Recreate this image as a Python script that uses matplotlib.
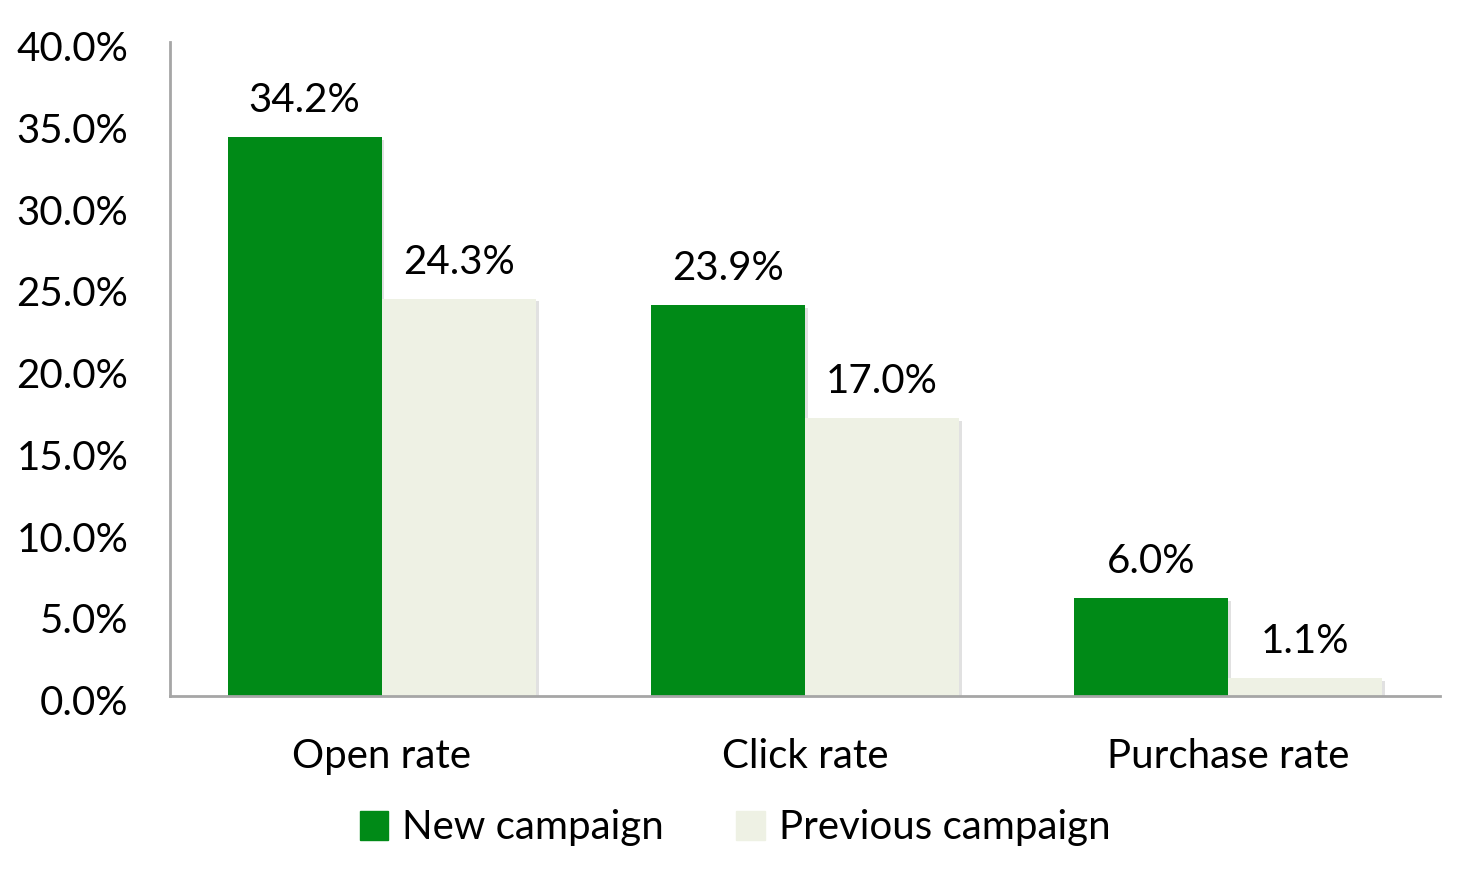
import matplotlib.pyplot as plt
import matplotlib.patheffects as pe
import matplotlib.transforms as mtrans
from matplotlib.patches import Patch
import numpy as np

plt.rcParams['font.family'] = ['Lato', 'DejaVu Sans']

categories = ['Open rate', 'Click rate', 'Purchase rate']
new_campaign = [34.2, 23.9, 6.0]
previous_campaign = [24.3, 17.0, 1.1]
yticks = [0, 5, 10, 15, 20, 25, 30, 35, 40]

green = '#008A17'
pale = '#EEF1E4'
fs = 29

fig = plt.figure(figsize=(14.58, 8.76), dpi=100)
ax = fig.add_axes([170 / 1458, 1 - 696 / 876, 1270 / 1458, 654 / 876])

x = np.arange(len(categories))
w = 0.364
shadow = [pe.SimplePatchShadow(offset=(2, -2), alpha=0.25, shadow_rgbFace='#888888'), pe.Normal()]
b1 = ax.bar(x - w / 2, new_campaign, w, color=green, path_effects=shadow)
b2 = ax.bar(x + w / 2, previous_campaign, w, color=pale, path_effects=shadow)

for bars, vals in ((b1, new_campaign), (b2, previous_campaign)):
    for b, v in zip(bars, vals):
        ax.annotate('%.1f%%' % v, (b.get_x() + b.get_width() / 2, v),
                    xytext=(0, 13), textcoords='offset points',
                    ha='center', va='bottom', fontsize=fs)

ax.set_xlim(-0.5, 2.5)
ax.set_ylim(0, 40)
ax.set_yticks(yticks)
ax.set_yticklabels(['%.1f%%' % t for t in yticks])
ax.set_xticks(x)
ax.set_xticklabels(categories)
ax.tick_params(axis='both', length=0, labelsize=fs)
ax.tick_params(axis='y', pad=30)
ax.tick_params(axis='x', pad=30)
# nudge y labels down a little, like the original
shift = mtrans.ScaledTranslation(0, -3 / 72, fig.dpi_scale_trans)
for lbl in ax.get_yticklabels():
    lbl.set_transform(lbl.get_transform() + shift)

for s in ['top', 'right']:
    ax.spines[s].set_visible(False)
for s in ['left', 'bottom']:
    ax.spines[s].set_color('#A6A6A6')
    ax.spines[s].set_linewidth(2)

handles = [Patch(color=green, label='New campaign'),
           Patch(color=pale, label='Previous campaign')]
fig.legend(handles=handles, loc='center', bbox_to_anchor=(735 / 1458, 1 - 828 / 876), ncol=2,
           frameon=False, fontsize=fs, handlelength=0.7, handleheight=0.7,
           handletextpad=0.35, columnspacing=1.8)

fig.savefig('out.png', dpi=100)
